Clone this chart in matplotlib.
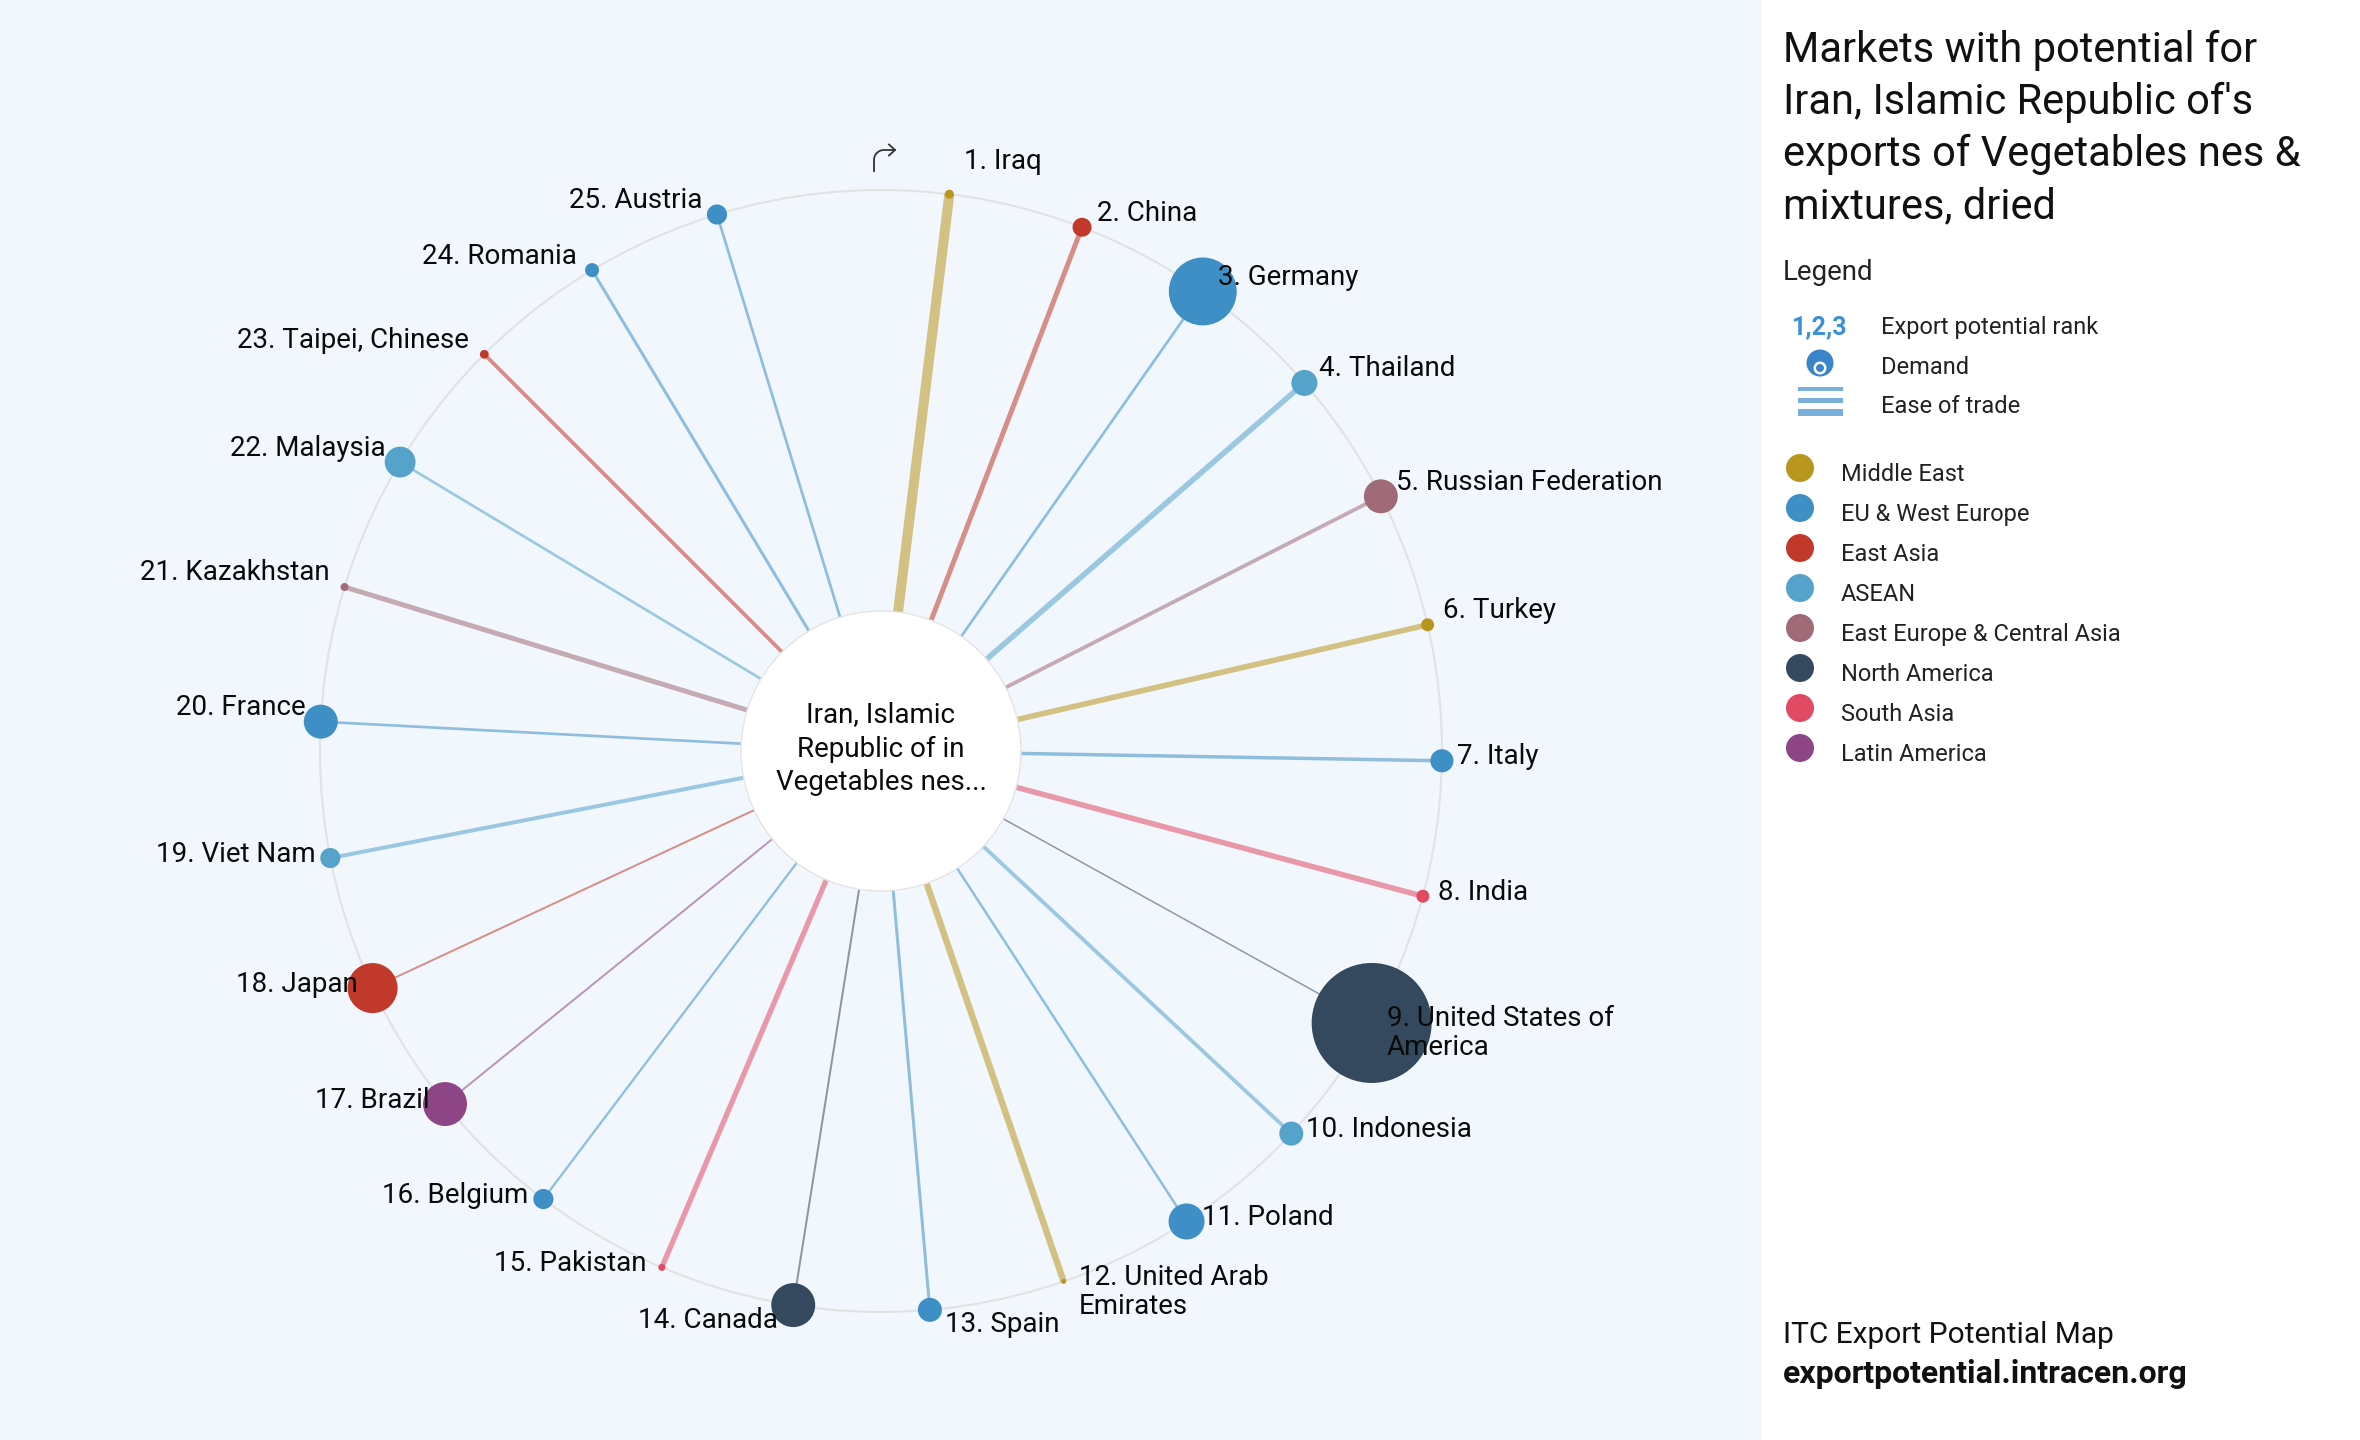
import textwrap
import numpy as np
import matplotlib.pyplot as plt
from matplotlib.patches import Circle, Rectangle

plt.rcParams['font.family'] = ['Roboto', 'DejaVu Sans']

# markets, ranked by export potential
countries = ['Iraq', 'China', 'Germany', 'Thailand', 'Russian Federation', 'Turkey',
             'Italy', 'India', 'United States of America', 'Indonesia', 'Poland',
             'United Arab Emirates', 'Spain', 'Canada', 'Pakistan', 'Belgium', 'Brazil',
             'Japan', 'Viet Nam', 'France', 'Kazakhstan', 'Malaysia', 'Taipei, Chinese',
             'Romania', 'Austria']
regions = ['Middle East', 'East Asia', 'EU & West Europe', 'ASEAN', 'East Europe & Central Asia',
           'Middle East', 'EU & West Europe', 'South Asia', 'North America', 'ASEAN',
           'EU & West Europe', 'Middle East', 'EU & West Europe', 'North America', 'South Asia',
           'EU & West Europe', 'Latin America', 'East Asia', 'ASEAN', 'EU & West Europe',
           'East Europe & Central Asia', 'ASEAN', 'East Asia', 'EU & West Europe',
           'EU & West Europe']
# relative demand (bubble area) and ease of trade (line weight)
demand = [0.56, 2.5, 32, 4.7, 8, 1.17, 3.7, 1.17, 100, 4, 9, 0.17, 4, 13.4, 0.34,
          2.8, 13.4, 17.4, 2.8, 8, 0.44, 6.6, 0.54, 1.36, 2.8]
ease = [10, 5, 2.7, 5.6, 3.8, 5.6, 3.5, 5.5, 1.5, 3.8, 2.5, 6.5, 3, 2, 5.3,
        2.3, 2, 2, 4, 2.7, 5, 2.7, 3.8, 3, 2.7]

region_names = ['Middle East', 'EU & West Europe', 'East Asia', 'ASEAN',
                'East Europe & Central Asia', 'North America', 'South Asia', 'Latin America']
region_colors = ['#b8961e', '#3d8fc6', '#c0392b', '#55a3cb',
                 '#a06b77', '#34495e', '#e04a63', '#8e4585']
color_of = dict(zip(region_names, region_colors))

title = "Markets with potential for\nIran, Islamic Republic of's\nexports of Vegetables nes &\nmixtures, dried"

W, H = 2360, 1440
fig = plt.figure(figsize=(W / 100, H / 100), dpi=100, facecolor='white')
ax = fig.add_axes([0, 0, 1, 1])
ax.set_xlim(0, W)
ax.set_ylim(H, 0)
ax.axis('off')
ax.add_patch(Rectangle((0, 0), 1760, H, color='#f2f7fd', zorder=0))

cx, cy, R, r_in = 881, 751, 561, 140
n = len(countries)
ang = 7 + 14 * np.arange(n)
x = cx + R * np.sin(np.deg2rad(ang))
y = cy - R * np.cos(np.deg2rad(ang))

ax.add_patch(Circle((cx, cy), R, fill=False, ec='#e2e2e2', lw=1.5, zorder=1))

for i in range(n):
    col = color_of[regions[i]]
    ax.plot([cx, x[i]], [cy, y[i]], color=col, alpha=0.55, lw=ease[i] * 0.72,
            solid_capstyle='butt', zorder=2)
    ax.add_patch(Circle((x[i], y[i]), 6 * np.sqrt(demand[i]), fc=col, ec='none', zorder=4))

    # label placement
    right = ang[i] < 180
    dx = 15 if right else -15
    if ang[i] < 10:
        dy = -33
    elif 165 < ang[i] < 195:
        dy = 15
    elif y[i] < cy:
        dy = -14
    else:
        dy = -4
    lines = textwrap.wrap(f'{i + 1}. {countries[i]}', 21)
    for k, ln in enumerate(lines):
        ax.text(x[i] + dx, y[i] + dy + k * 29, ln, ha='left' if right else 'right',
                va='center', fontsize=20, color='#0a0a0a', zorder=5)

ax.add_patch(Circle((cx, cy), r_in, fc='white', ec='#e4e4e4', lw=1, zorder=3))
ax.text(cx, cy - 2, 'Iran, Islamic\nRepublic of in\nVegetables nes...', ha='center',
        va='center', fontsize=20, linespacing=1.33, color='#0a0a0a', zorder=5)

# small rotate icon above the wheel
t = np.linspace(np.pi, np.pi / 2, 20)
ix = np.r_[874, 884 + 10 * np.cos(t), 895]
iy = np.r_[171, 160 - 10 * np.sin(t), 150]
ax.plot(ix, iy, color='#333333', lw=1.3, zorder=5)
ax.plot([889, 895, 889], [144.5, 150, 155.5], color='#333333', lw=1.3, zorder=5)

# right panel
for k, ln in enumerate(title.split('\n')):
    ax.text(1783, 62 + k * 52, ln, fontsize=30, va='baseline', color='#111111')
ax.text(1783, 280, 'Legend', fontsize=20, va='baseline', color='#222222')

ax.text(1792, 334, '1,2,3', fontsize=18, fontweight='bold', va='baseline', color='#3d8fd6')
ax.text(1881, 334, 'Export potential rank', fontsize=17, va='baseline', color='#222222')
ax.add_patch(Circle((1820, 363), 13.5, fc='#3a84cc', ec='none'))
ax.add_patch(Circle((1820, 368), 6.5, fc='white', ec='none'))
ax.add_patch(Circle((1820, 368), 4, fc='#3a84cc', ec='none'))
ax.text(1881, 374, 'Demand', fontsize=17, va='baseline', color='#222222')
for yb, hb in [(387, 4), (398, 4.5), (409, 6.5)]:
    ax.add_patch(Rectangle((1798, yb), 45, hb, color='#7aaedb', ec='none'))
ax.text(1881, 413, 'Ease of trade', fontsize=17, va='baseline', color='#222222')

for k, (name, col) in enumerate(zip(region_names, region_colors)):
    ax.add_patch(Circle((1800, 468 + k * 40), 14, fc=col, ec='none'))
    ax.text(1841, 481 + k * 40, name, fontsize=17, va='baseline', color='#222222')

ax.text(1783, 1343, 'ITC Export Potential Map', fontsize=21.5, va='baseline', color='#111111')
ax.text(1783, 1383, 'exportpotential.intracen.org', fontsize=23, fontweight='bold',
        va='baseline', color='#111111')

plt.savefig('out.png', dpi=100, facecolor='white')
